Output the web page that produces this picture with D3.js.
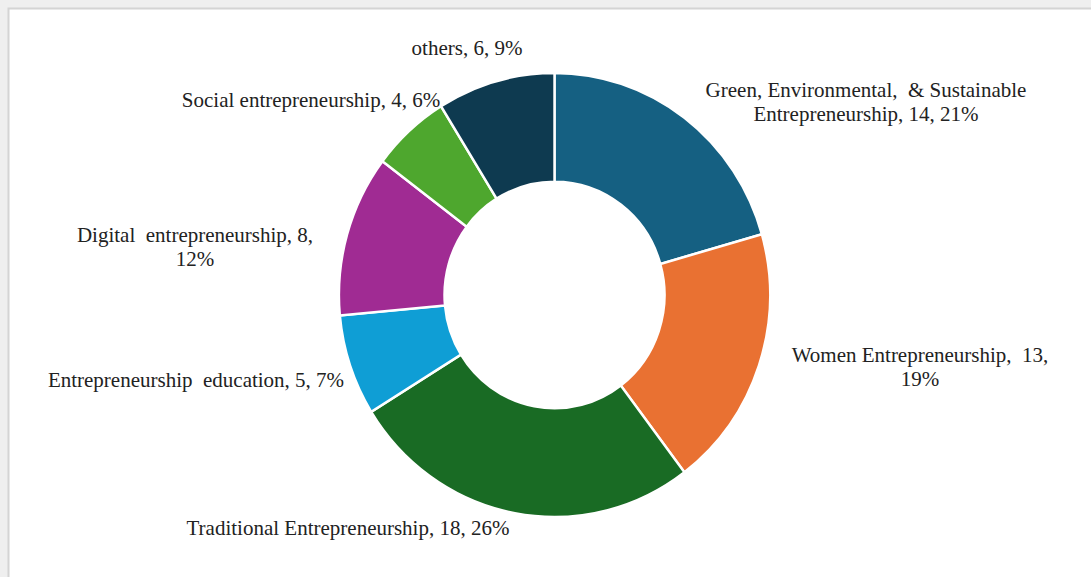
<!DOCTYPE html>
<html><head><meta charset="utf-8">
<script src="https://cdn.jsdelivr.net/npm/d3@7"></script>
<style>
html,body{margin:0;padding:0;background:#efefef;overflow:hidden;}
svg{display:block;}
text{font-family:"Liberation Serif","Times New Roman",serif;fill:#222;white-space:pre;}
</style></head>
<body>
<svg id="chart" width="1091" height="577"></svg>
<script>
const categories = [
  "Green, Environmental,  & Sustainable Entrepreneurship",
  "Women Entrepreneurship",
  "Traditional Entrepreneurship",
  "Entrepreneurship  education",
  "Digital  entrepreneurship",
  "Social entrepreneurship",
  "others"
];
const values = [14, 13, 18, 5, 8, 4, 6];
const colors = ["#156082", "#E97132", "#196B24", "#0F9ED5", "#A02B93", "#4EA72E", "#0E3A50"];

// label layout: center x, first baseline y, max line width, separator after name
const labelLayout = [
  {x: 866, y: 97,  w: 330, sep: ", "},
  {x: 920, y: 362, w: 265, sep: ",  "},
  {x: 348, y: 535, w: 400, sep: ", "},
  {x: 196, y: 387, w: 400, sep: ", "},
  {x: 195, y: 242, w: 245, sep: ", "},
  {x: 311, y: 107, w: 400, sep: ", "},
  {x: 467, y: 55,  w: 400, sep: ", "}
];

const svg = d3.select("#chart");
svg.append("rect").attr("x", 8.5).attr("y", 8.5).attr("width", 1100).attr("height", 600)
  .attr("fill", "#fff").attr("stroke", "#d4d4d4").attr("stroke-width", 2);

const total = d3.sum(values);
const pct = d3.format(".0%");
const data = categories.map((c, i) => ({name: c, value: values[i], color: colors[i], i}));

const pie = d3.pie().value(d => d.value).sort(null);
const arc = d3.arc().innerRadius(113.3).outerRadius(222);

const g = svg.append("g").attr("transform", "translate(554.5,295) scale(0.971,1)");
g.selectAll("path").data(pie(data)).join("path")
  .attr("d", arc)
  .attr("fill", d => d.data.color)
  .attr("stroke", "#fff")
  .attr("stroke-width", 2.5)
  .attr("stroke-linejoin", "miter");

const lineH = 24;
data.forEach((d, i) => {
  const L = labelLayout[i];
  const full = d.name + L.sep + d.value + ", " + pct(d.value / total);
  const t = svg.append("text").attr("text-anchor", "middle").attr("font-size", 21)
    .attr("x", L.x).attr("y", L.y);
  const tokens = full.split(/(?<= )(?=\S)/);
  let lines = [], cur = "";
  const probe = svg.append("text").attr("font-size", 21).attr("visibility", "hidden");
  tokens.forEach(tok => {
    const test = cur + tok;
    probe.text(test.trimEnd());
    if (cur && probe.node().getComputedTextLength() > L.w) { lines.push(cur.trimEnd()); cur = tok; }
    else cur = test;
  });
  lines.push(cur.trimEnd());
  probe.remove();
  lines.forEach((ln, k) => {
    t.append("tspan").attr("x", L.x).attr("y", L.y + k * lineH).text(ln);
  });
});
</script>
</body></html>
